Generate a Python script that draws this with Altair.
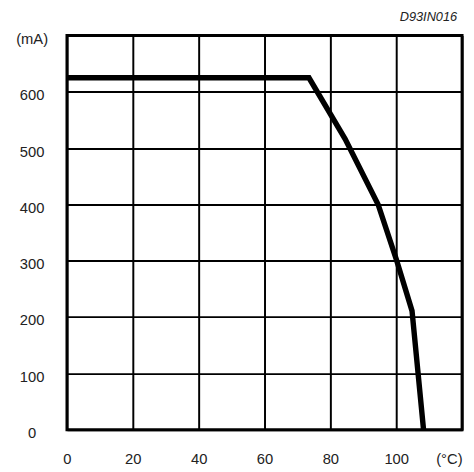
import altair as alt
import pandas as pd

temp_c = [0, 73.5, 84.5, 94.5, 100, 104.8, 108.3]
current_ma = [625, 625, 516, 400, 303, 211, 0]
x_ticks = [0, 20, 40, 60, 80, 100, 120]
y_ticks = [0, 100, 200, 300, 400, 500, 600, 700]

df = pd.DataFrame({"t": temp_c, "i": current_ma})

FONT = "Liberation Sans"

chart = alt.Chart(df).mark_line(color="black", strokeWidth=5.5, strokeJoin="miter").encode(
    x=alt.X("t:Q", scale=alt.Scale(domain=[0, 120], nice=False),
            axis=alt.Axis(values=x_ticks, title=None, grid=True, gridColor="black",
                          gridWidth=2, gridOpacity=1, domain=False, ticks=False,
                          labelPadding=22, labelFontSize=15, labelFont=FONT,
                          labelColor="#222", labelFlush=False,
                          labelAlign={"expr": "datum.value == 120 ? 'right' : 'center'"},
                          labelExpr="datum.value == 120 ? '(°C)' : datum.label")),
    y=alt.Y("i:Q", scale=alt.Scale(domain=[0, 700], nice=False),
            axis=alt.Axis(values=y_ticks, title=None, grid=True, gridColor="black",
                          gridWidth=2, gridOpacity=1, domain=False, ticks=False,
                          labelPadding=36, labelAlign="center", labelFontSize=15,
                          labelFont=FONT, labelColor="#222", labelFlush=False,
                          labelOffset=3,
                          labelExpr="datum.value == 700 ? '(mA)' : datum.label")),
).properties(
    width=402, height=401,
    autosize=alt.AutoSizeParams(type="none"),
    padding={"left": 60, "top": 24, "right": 4, "bottom": 36},
    title=alt.TitleParams("D93IN016", anchor="end", fontStyle="italic", fontSize=13,
                          font=FONT, fontWeight="normal", color="#222", offset=8, dx=-5),
).configure_view(stroke="black", strokeWidth=3)

chart.save("out.html", embed_options={"renderer": "svg", "actions": False})
